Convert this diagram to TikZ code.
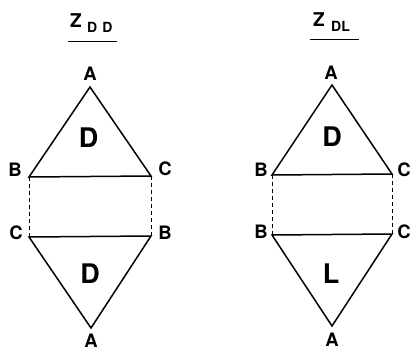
\documentclass[tikz,border=0pt]{standalone}
\usepackage{fontspec}
\setmainfont{TeX Gyre Heros}
\begin{document}
\begin{tikzpicture}[x=1pt,y=-1pt,
  tri/.style={line width=1.5pt, line join=miter},
  link/.style={line width=0.8pt, dash pattern=on 4pt off 3pt},
  uline/.style={line width=1pt},
  vlab/.style={font=\fontsize{18.5}{18.5}\selectfont\bfseries, inner sep=0pt},
  big/.style={font=\fontsize{27}{27}\selectfont\bfseries, inner sep=0pt},
  ttl/.style={font=\fontsize{19}{19}\selectfont\bfseries, inner sep=0pt, anchor=base west},
  sub/.style={font=\fontsize{14}{14}\selectfont\bfseries, inner sep=0pt, anchor=base west}]
\useasboundingbox (0,0) rectangle (412,350);

% ---- left: Z_DD ----
\node[ttl] (z1) at (70,28) {Z};
\node[sub] (s1) at (87,33) {D\hspace{5pt}D};
\coordinate (u1a) at (68,42);
\coordinate (u1b) at (117,42);
\draw[uline] (u1a) -- (u1b);

\coordinate (A1) at (90,87);
\coordinate (B1) at (29,177);
\coordinate (C1) at (151,176);
\coordinate (C2) at (29,237);
\coordinate (B2) at (151,236);
\coordinate (A2) at (91,328);
\draw[tri] (A1) -- (B1) -- (C1) -- cycle;
\draw[tri] (C2) -- (B2) -- (A2) -- cycle;
\draw[link] (B1) -- (C2);
\draw[link] (C1) -- (B2);

\node[vlab] (lA1) at (90,74) {A};
\node[vlab] (lB1) at (15,170) {B};
\node[vlab] (lC1) at (165,169) {C};
\node[vlab] (lC2) at (16,233) {C};
\node[vlab] (lB2) at (165,233) {B};
\node[vlab] (lA2) at (91,340.5) {A};
\node[big] (d1) at (88.5,138) {D};
\node[big] (d2) at (90,274) {D};

% ---- right: Z_DL ----
\node[ttl] (z2) at (313,27) {Z};
\node[sub] (s2) at (331,32) {DL};
\coordinate (u2a) at (310,40);
\coordinate (u2b) at (359,40);
\draw[uline] (u2a) -- (u2b);

\coordinate (A3) at (332,85);
\coordinate (B3) at (272,175);
\coordinate (C3) at (392,174);
\coordinate (B4) at (272,235);
\coordinate (C4) at (392,234);
\coordinate (A4) at (332,326);
\draw[tri] (A3) -- (B3) -- (C3) -- cycle;
\draw[tri] (B4) -- (C4) -- (A4) -- cycle;
\draw[link] (B3) -- (B4);
\draw[link] (C3) -- (C4);

\node[vlab] (lA3) at (331,73) {A};
\node[vlab] (lB3) at (261,170) {B};
\node[vlab] (lC3) at (404,170) {C};
\node[vlab] (lB4) at (261,232) {B};
\node[vlab] (lC4) at (404,232) {C};
\node[vlab] (lA4) at (332,340) {A};
\node[big] (d3) at (332,136.5) {D};
\node[big] (l4) at (331,274) {L};
\end{tikzpicture}
\end{document}
